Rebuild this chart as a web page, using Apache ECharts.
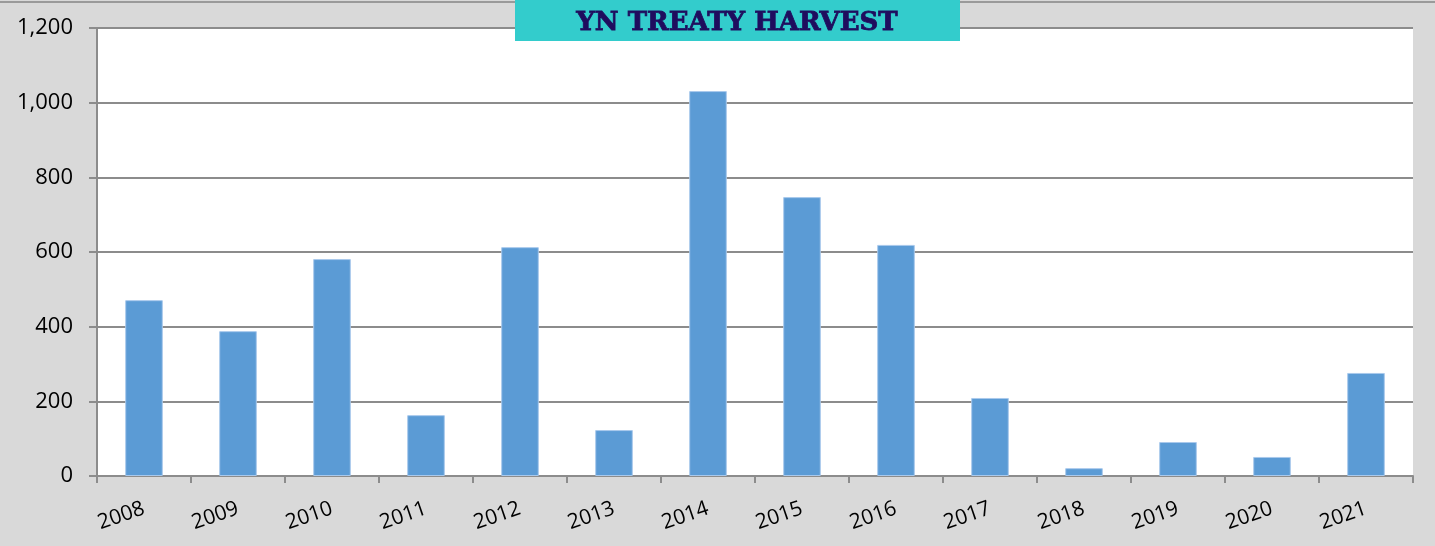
<!DOCTYPE html>
<html>
<head>
<meta charset="utf-8">
<script src="https://cdn.jsdelivr.net/npm/echarts@6/dist/echarts.min.js"></script>
<style>
    html, body { margin: 0; padding: 0; background: #d9d9d9; }
    #chart { width: 1435px; height: 546px; }
</style>
</head>
<body>
<div id="chart"></div>
<script>
// Chart data
const years = ['2008', '2009', '2010', '2011', '2012', '2013', '2014',
    '2015', '2016', '2017', '2018', '2019', '2020', '2021'];
const harvest = [471, 388, 581, 163, 613, 123, 1031, 747, 619, 209, 21, 91, 51, 276];
const chartTitle = 'YN TREATY HARVEST';

const chart = echarts.init(document.getElementById('chart'));

const option = {
    backgroundColor: '#d9d9d9',
    animation: false,
    grid: {
        left: 97,
        right: 22,
        top: 28,
        bottom: 70,
        show: true,
        backgroundColor: '#ffffff',
        borderWidth: 0
    },
    graphic: [
        {
            type: 'line',
            shape: { x1: 0, y1: 2, x2: 1435, y2: 2 },
            style: { stroke: '#9a9a9a', lineWidth: 2 }
        },
        {
            type: 'rect',
            shape: { x: 515, y: 0, width: 445, height: 41 },
            style: { fill: '#33cccc' },
            z: 10
        },
        {
            type: 'text',
            x: 737,
            y: 23,
            style: {
                text: chartTitle,
                fill: '#1f0d5e',
                font: '900 26px "DejaVu Serif"',
                align: 'center',
                verticalAlign: 'middle',
                stroke: '#1f0d5e',
                lineWidth: 0.8
            },
            z: 11
        }
    ],
    xAxis: {
        type: 'category',
        data: years,
        axisLine: { lineStyle: { color: '#8c8c8c', width: 2 } },
        axisTick: { show: true, length: 7, lineStyle: { color: '#8c8c8c', width: 2 } },
        axisLabel: {
            rotate: 19,
            margin: 32,
            fontSize: 21,
            color: '#000',
            fontFamily: '"Open Sans", sans-serif'
        }
    },
    yAxis: {
        type: 'value',
        min: 0,
        max: 1200,
        interval: 200,
        axisLine: { show: true, lineStyle: { color: '#8c8c8c', width: 2 } },
        axisTick: { show: true, length: 8, lineStyle: { color: '#8c8c8c', width: 2 } },
        splitLine: { lineStyle: { color: '#8c8c8c', width: 2 } },
        axisLabel: {
            margin: 24,
            fontSize: 22,
            color: '#000',
            fontFamily: '"Open Sans", sans-serif',
            formatter: v => v.toLocaleString('en-US')
        }
    },
    series: [
        {
            type: 'bar',
            data: harvest,
            barWidth: '40%',
            itemStyle: {
                color: '#5b9bd5',
                borderColor: '#a9c9ec',
                borderWidth: 1
            }
        }
    ]
};

chart.setOption(option);
</script>
</body>
</html>
